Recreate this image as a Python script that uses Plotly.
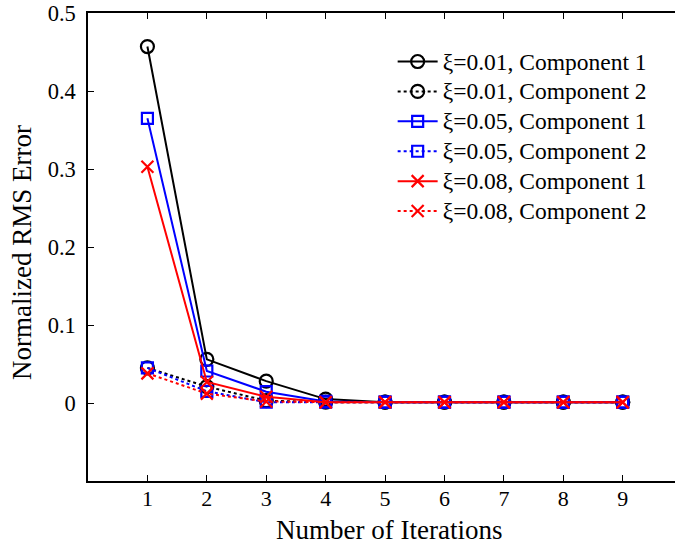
import plotly.graph_objects as go

iterations = [1, 2, 3, 4, 5, 6, 7, 8, 9]

xi001_comp1 = [0.457, 0.056, 0.028, 0.005, 0.001, 0.001, 0.001, 0.001, 0.001]
xi001_comp2 = [0.045, 0.021, 0.003, 0.001, 0.001, 0.001, 0.001, 0.001, 0.001]
xi005_comp1 = [0.365, 0.041, 0.0145, 0.002, 0.001, 0.001, 0.001, 0.001, 0.001]
xi005_comp2 = [0.045, 0.015, 0.001, 0.001, 0.001, 0.001, 0.001, 0.001, 0.001]
xi008_comp1 = [0.303, 0.027, 0.008, 0.001, 0.001, 0.001, 0.001, 0.001, 0.001]
xi008_comp2 = [0.038, 0.012, 0.002, 0.001, 0.001, 0.001, 0.001, 0.001, 0.001]

series_names = [
    "ξ=0.01, Component 1",
    "ξ=0.01, Component 2",
    "ξ=0.05, Component 1",
    "ξ=0.05, Component 2",
    "ξ=0.08, Component 1",
    "ξ=0.08, Component 2",
]
series_values = [xi001_comp1, xi001_comp2, xi005_comp1, xi005_comp2, xi008_comp1, xi008_comp2]
colors = ["black", "black", "#0000ff", "#0000ff", "#ff0000", "#ff0000"]
dashes = ["solid", "dot", "solid", "dot", "solid", "dot"]
symbols = ["circle-open", "circle-open", "square-open", "square-open", "x-thin-open", "x-thin-open"]
sizes = [13, 13, 11, 11, 12, 12]

x_tick_vals = [1, 2, 3, 4, 5, 6, 7, 8, 9]
y_tick_vals = [0, 0.1, 0.2, 0.3, 0.4, 0.5]
y_tick_text = ["0", "0.1", "0.2", "0.3", "0.4", "0.5"]

FONT = "Liberation Serif, Times New Roman, serif"

fig = go.Figure()
for name, vals, c, d, s, sz in zip(series_names, series_values, colors, dashes, symbols, sizes):
    fig.add_trace(go.Scatter(
        x=iterations, y=vals, name='<span style="font-size:23.5px">' + name + '</span>',
        mode="lines+markers",
        line=dict(color=c, width=2, dash=d),
        marker=dict(symbol=s, size=sz, color=c, line=dict(color=c, width=2.2)),
    ))

fig.update_layout(
    width=675, height=546,
    margin=dict(l=88, r=0, t=13, b=65, autoexpand=False),
    paper_bgcolor="white", plot_bgcolor="white",
    font=dict(family=FONT, size=22, color="black"),
    showlegend=True,
    legend=dict(
        x=0.519, y=0.939, xanchor="left", yanchor="top",
        bgcolor="rgba(0,0,0,0)", font=dict(size=20.7, family=FONT),
        tracegroupgap=0, itemwidth=40,
    ),
    xaxis=dict(
        range=[0, 9.88], tickmode="array", tickvals=x_tick_vals,
        ticks="inside", ticklen=6, tickwidth=1, tickcolor="black",
        showline=True, linecolor="black", linewidth=1.5, mirror="ticks",
        showgrid=False, zeroline=False, automargin=False,
        tickfont=dict(size=22, family=FONT),
        ticklabelstandoff=-3,
    ),
    yaxis=dict(
        range=[-0.1, 0.5], tickmode="array", tickvals=y_tick_vals, ticktext=y_tick_text,
        ticks="inside", ticklen=6, tickwidth=1, tickcolor="black",
        showline=True, linecolor="black", linewidth=1.5,
        showgrid=False, zeroline=False, automargin=False,
        tickfont=dict(size=22.5, family=FONT),
        ticklabelstandoff=6,
    ),
    annotations=[
        dict(text="Number of Iterations", xref="paper", yref="paper",
             x=(389 - 88) / 587, y=-(530 - 481) / 468, xanchor="center", yanchor="middle",
             showarrow=False, font=dict(size=27, family=FONT)),
        dict(text="Normalized RMS Error", xref="paper", yref="paper",
             x=-(88 - 22) / 587, y=(481 - 253) / 468, xanchor="center", yanchor="middle",
             textangle=-90, showarrow=False, font=dict(size=27, family=FONT)),
    ],
)

page_css = ("html,body{margin:0;padding:0;overflow:hidden;scrollbar-width:none;}"
            "::-webkit-scrollbar{display:none;width:0;height:0;}")
fig.write_html(
    "out.html", config={"displayModeBar": False},
    post_script=("var st=document.createElement('style');"
                 "st.textContent='" + page_css + "';"
                 "document.head.appendChild(st);"
                 "document.body.style.margin='0';"),
)
